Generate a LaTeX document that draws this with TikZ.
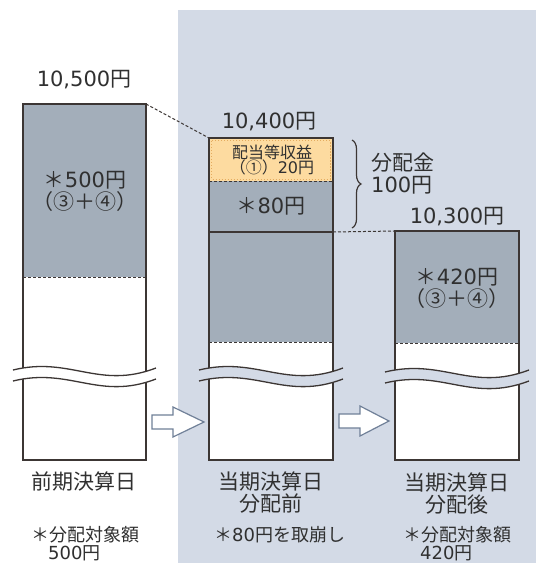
\documentclass[tikz,border=0pt]{standalone}
\usepackage{fontspec}
\setmainfont{Noto Sans CJK JP}
\newfontfamily\dvs{DejaVu Sans}
\newcommand\dg[1]{{\dvs #1}}
\usetikzlibrary{decorations.pathreplacing}
\definecolor{panel}{RGB}{211,218,230}
\definecolor{barg}{RGB}{163,174,186}
\definecolor{orng}{RGB}{253,219,160}
\definecolor{orngd}{RGB}{228,172,96}
\definecolor{ink}{RGB}{60,54,52}
\definecolor{txt}{RGB}{48,48,48}
\definecolor{arrc}{RGB}{112,128,152}
% break mark: #1 left x, #2 right x, #3 y of upper wave, #4 background colour
\newcommand\brkwave[4]{%
  \pgfmathsetmacro\bwA{#1-10}%
  \pgfmathsetmacro\bwB{#1+0.4*(#2-#1+20)-10}%
  \pgfmathsetmacro\bwC{#1+0.6*(#2-#1+20)-10}%
  \pgfmathsetmacro\bwD{#2+10}%
  \fill[#4] (\bwA,#3) .. controls (\bwB,#3-14) and (\bwC,#3+20) .. (\bwD,#3-2)
     -- (\bwD,#3+9) .. controls (\bwC,#3+31) and (\bwB,#3-3) .. (\bwA,#3+11) -- cycle;
  \draw[wave] (\bwA,#3) .. controls (\bwB,#3-14) and (\bwC,#3+20) .. (\bwD,#3-2);
  \draw[wave] (\bwA,#3+11) .. controls (\bwB,#3-3) and (\bwC,#3+31) .. (\bwD,#3+9);
}
\begin{document}
\begin{tikzpicture}[x=1pt,y=-1pt,
  bar/.style={draw=ink,line width=1.6pt},
  conn/.style={draw=ink,line width=1pt,dash pattern=on 3pt off 2pt},
  sepd/.style={draw=ink,line width=1pt,dash pattern=on 3pt off 2pt},
  seps/.style={draw=ink,line width=1.5pt},
  wave/.style={draw=ink,line width=1.3pt},
  lbl/.style={text=txt,font=\fontsize{21}{22}\selectfont,inner sep=0pt,align=center},
  small/.style={text=txt,font=\fontsize{18}{18}\selectfont,inner sep=0pt,align=left,anchor=west},
  mini/.style={text=txt,font=\fontsize{16}{15.5}\selectfont,inner sep=0pt,align=center},
  blk/.style={draw=arrc,fill=white,line width=1.2pt,line join=miter},
  brc/.style={draw=ink,line width=1.2pt,decorate,decoration={brace,amplitude=9pt}}]
\useasboundingbox (0,0) rectangle (536,563);
\fill[white] (0,0) rectangle (536,563);
\fill[panel] (178,10) rectangle (536,563);

% ---------- left bar ----------
\fill[white] (23,104) rectangle (146,460);
\fill[barg] (23,104) rectangle (146,277);
\draw[sepd] (23,277) -- (146,277);
\draw[bar] (23,104) rectangle (146,460);
\brkwave{23}{146}{370}{white}
\coordinate (lTR) at (146,104);

% ---------- middle bar ----------
\fill[white] (209,138) rectangle (333,460);
\fill[orng] (209,138) rectangle (333,181);
\fill[barg] (209,181) rectangle (333,342);
\draw[orngd,line width=0.8pt,dash pattern=on 1.5pt off 1.5pt] (211.8,140.8) rectangle (330.2,179);
\draw[sepd] (209,181) -- (333,181);
\draw[seps] (209,232) -- (333,232);
\draw[sepd] (209,342) -- (333,342);
\draw[bar] (209,138) rectangle (333,460);
\brkwave{209}{333}{370}{panel}
\coordinate (mTL) at (209,138);
\coordinate (mSR) at (333,232);

% ---------- right bar ----------
\fill[white] (395,231) rectangle (519,460);
\fill[barg] (395,231) rectangle (519,343);
\draw[sepd] (395,343) -- (519,343);
\draw[bar] (395,231) rectangle (519,460);
\brkwave{395}{519}{372}{panel}
\coordinate (rTL) at (395,231);

% ---------- connectors ----------
\draw[conn] (lTR) -- (mTL);
\draw[conn] (mSR) -- (rTL);

% ---------- brace ----------
\coordinate (bT) at (352,140);
\coordinate (bB) at (352,228);
\draw[brc] (bT) -- (bB);

% ---------- block arrows ----------
\draw[blk] (152,415) -- (173,415) -- (173,407) -- (204,422) -- (173,437) -- (173,429) -- (152,429) -- cycle;
\draw[blk] (339,414) -- (360,414) -- (360,406) -- (389,421) -- (360,436) -- (360,428) -- (339,428) -- cycle;

% ---------- labels ----------
\node[lbl] (v10500) at (84,80) {\dg{10,500}円};
\node[lbl] (v10400) at (269,122) {\dg{10,400}円};
\node[lbl] (v10300) at (457,217) {\dg{10,300}円};
\node[lbl] (l500) at (85,191) {＊\dg{500}円\\（③＋④）};
\node[mini] (mdiv) at (272,160) {配当等収益\\（①）\dg{20}円};
\node[lbl] (m80) at (271,206) {＊\dg{80}円};
\node[lbl] (r420) at (457,288) {＊\dg{420}円\\（③＋④）};
\node[lbl,align=left,anchor=west] (dist) at (371,174) {分配金\\\dg{100}円};

\node[lbl] (dprev) at (84,482) {前期決算日};
\node[lbl] (dbef) at (271,493) {当期決算日\\分配前};
\node[lbl] (daft) at (457,494) {当期決算日\\分配後};

\node[small] (sl) at (31,544) {＊分配対象額\\\hspace*{17pt}\dg{500}円};
\node[small] (sm) at (214,535) {＊\dg{80}円を取崩し};
\node[small] (sr) at (403,544) {＊分配対象額\\\hspace*{17pt}\dg{420}円};
\end{tikzpicture}
\end{document}
